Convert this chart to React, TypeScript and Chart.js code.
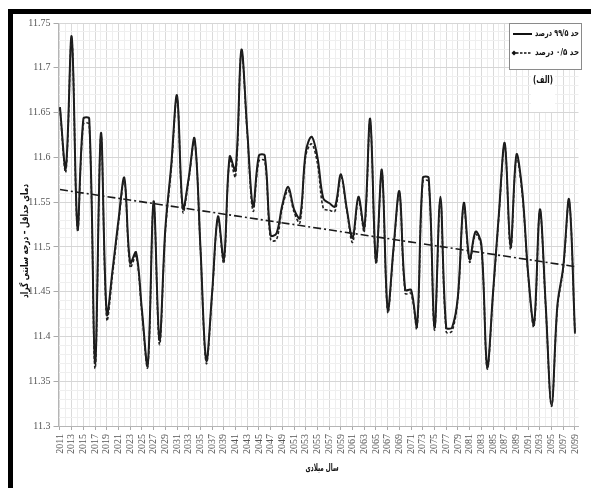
import React, { useEffect, useRef } from 'react';
import { Chart, registerables } from 'chart.js';

Chart.register(...registerables);

const years = [
  2011, 2012, 2013, 2014, 2015, 2016, 2017, 2018, 2019, 2020,
  2021, 2022, 2023, 2024, 2025, 2026, 2027, 2028, 2029, 2030,
  2031, 2032, 2033, 2034, 2035, 2036, 2037, 2038, 2039, 2040,
  2041, 2042, 2043, 2044, 2045, 2046, 2047, 2048, 2049, 2050,
  2051, 2052, 2053, 2054, 2055, 2056, 2057, 2058, 2059, 2060,
  2061, 2062, 2063, 2064, 2065, 2066, 2067, 2068, 2069, 2070,
  2071, 2072, 2073, 2074, 2075, 2076, 2077, 2078, 2079, 2080,
  2081, 2082, 2083, 2084, 2085, 2086, 2087, 2088, 2089, 2090,
  2091, 2092, 2093, 2094, 2095, 2096, 2097, 2098, 2099,
];

// حد ۹۹/۵ درصد (solid)
const upper995 = [
  11.656, 11.588, 11.735, 11.521, 11.643, 11.643, 11.370, 11.627, 11.425, 11.475,
  11.530, 11.577, 11.482, 11.494, 11.430, 11.368, 11.551, 11.396, 11.520, 11.590,
  11.669, 11.543, 11.577, 11.621, 11.500, 11.373, 11.449, 11.534, 11.486, 11.601,
  11.585, 11.720, 11.630, 11.545, 11.602, 11.602, 11.513, 11.515, 11.547, 11.567,
  11.542, 11.532, 11.606, 11.623, 11.600, 11.554, 11.549, 11.545, 11.581, 11.543,
  11.510, 11.556, 11.521, 11.643, 11.484, 11.586, 11.430, 11.499, 11.562, 11.452,
  11.452, 11.412, 11.577, 11.577, 11.410, 11.556, 11.410, 11.410, 11.445, 11.549,
  11.486, 11.517, 11.503, 11.366, 11.449, 11.537, 11.616, 11.501, 11.603, 11.562,
  11.470, 11.414, 11.542, 11.435, 11.323, 11.435, 11.478, 11.553, 11.404,
];

// حد ۰/۵ درصد (dashed)
const lower05 = [
  11.655, 11.584, 11.733, 11.518, 11.637, 11.637, 11.364, 11.625, 11.419, 11.470,
  11.526, 11.574, 11.477, 11.490, 11.426, 11.366, 11.549, 11.391, 11.516, 11.586,
  11.667, 11.539, 11.575, 11.619, 11.498, 11.370, 11.447, 11.532, 11.482, 11.598,
  11.578, 11.718, 11.627, 11.540, 11.596, 11.596, 11.508, 11.508, 11.544, 11.563,
  11.539, 11.527, 11.602, 11.615, 11.593, 11.543, 11.541, 11.540, 11.578, 11.541,
  11.505, 11.553, 11.517, 11.640, 11.481, 11.584, 11.427, 11.497, 11.560, 11.448,
  11.448, 11.409, 11.573, 11.573, 11.407, 11.553, 11.405, 11.406, 11.443, 11.546,
  11.483, 11.514, 11.500, 11.364, 11.447, 11.535, 11.614, 11.497, 11.600, 11.558,
  11.468, 11.411, 11.540, 11.433, 11.322, 11.432, 11.476, 11.551, 11.403,
];

const trendYears = [2011, 2099];
const trendValues = [11.564, 11.478];

const yMin = 11.3;
const yMax = 11.75;

const legendLabels = ['حد ۹۹/۵ درصد', 'حد ۰/۵ درصد'];
const panelLabel = '(الف)';
const yTitle = 'دمای حداقل – درجه سانتی گراد';
const xTitle = 'سال میلادی';

const W = 578;
const H = 469;

const textPlugin = {
  id: 'boxLegendAndTitles',
  afterDraw(chart: any) {
    const ctx = chart.ctx as CanvasRenderingContext2D;
    ctx.save();
    // white patch behind panel label
    ctx.fillStyle = '#ffffff';
    ctx.fillRect(518, 56, 24, 42);
    // legend box
    ctx.fillRect(496, 9, 72, 46);
    ctx.strokeStyle = '#8a8a8a';
    ctx.lineWidth = 1;
    ctx.strokeRect(496.5, 9.5, 72, 46);

    // solid sample
    ctx.strokeStyle = '#111';
    ctx.lineWidth = 2;
    ctx.setLineDash([]);
    ctx.beginPath();
    ctx.moveTo(500, 20);
    ctx.lineTo(519, 20);
    ctx.stroke();

    // dashed sample with diamond
    ctx.lineWidth = 1.5;
    ctx.setLineDash([2.5, 1.5]);
    ctx.beginPath();
    ctx.moveTo(503, 39);
    ctx.lineTo(519, 39);
    ctx.stroke();
    ctx.setLineDash([]);
    ctx.fillStyle = '#111';
    ctx.beginPath();
    ctx.moveTo(501, 36.5);
    ctx.lineTo(503.5, 39);
    ctx.lineTo(501, 41.5);
    ctx.lineTo(498.5, 39);
    ctx.closePath();
    ctx.fill();

    ctx.fillStyle = '#111';
    ctx.direction = 'rtl';
    ctx.textAlign = 'right';
    ctx.textBaseline = 'middle';
    ctx.font = 'bold 9px "DejaVu Sans"';
    ctx.fillText(legendLabels[0], 566, 20, 44);
    ctx.fillText(legendLabels[1], 566, 39, 44);

    ctx.textAlign = 'center';
    ctx.font = 'bold 10px "DejaVu Sans"';
    ctx.fillText(panelLabel, 530, 66, 20);

    // axis titles
    ctx.font = 'bold 10px "DejaVu Sans"';
    ctx.fillText(xTitle, 309, 454, 33);
    ctx.translate(12, 227);
    ctx.rotate(-Math.PI / 2);
    ctx.fillText(yTitle, 0, 0, 114);
    ctx.restore();
  },
};

export default function App() {
  const canvasRef = useRef<HTMLCanvasElement | null>(null);

  useEffect(() => {
    const canvas = canvasRef.current;
    if (!canvas) return;

    const upperData = years.map((x, i) => ({ x, y: upper995[i] }));
    const lowerData = years.map((x, i) => ({ x, y: lower05[i] }));
    const trendData = trendYears.map((x, i) => ({ x, y: trendValues[i] }));

    const yTicks: { value: number }[] = [];
    for (let i = 0; i <= 45; i++) yTicks.push({ value: Math.round((yMin + i * 0.01) * 100) / 100 });
    const isMajorY = (v: number) => Math.round(v * 100) % 5 === 0;
    const isLabeledX = (v: number) => (v - 2011) % 2 === 0;

    const chart = new Chart(canvas, {
      type: 'line',
      data: {
        datasets: [
          {
            label: legendLabels[1],
            data: lowerData,
            borderColor: '#222',
            borderWidth: 1.6,
            borderDash: [3, 2],
            pointRadius: 0,
            tension: 0.35,
            fill: false,
          },
          {
            label: legendLabels[0],
            data: upperData,
            borderColor: '#1a1a1a',
            borderWidth: 2,
            pointRadius: 0,
            tension: 0.35,
            fill: false,
          },
          {
            label: 'trend',
            data: trendData,
            borderColor: '#1a1a1a',
            borderWidth: 1.6,
            borderDash: [8, 3, 2, 3],
            pointRadius: 0,
            tension: 0,
            fill: false,
          },
        ],
      },
      options: {
        responsive: false,
        animation: false,
        devicePixelRatio: 1,
        layout: { padding: { left: 0, right: 4, top: 7, bottom: 0 } },
        plugins: {
          legend: { display: false },
          tooltip: { enabled: false },
        },
        scales: {
          x: {
            type: 'linear',
            min: 2010.75,
            max: 2099.6,
            afterBuildTicks: (scale: any) => {
              scale.ticks = years.map((v) => ({ value: v }));
            },
            afterFit: (scale: any) => {
              scale.height = 57;
            },
            ticks: {
              autoSkip: false,
              minRotation: 90,
              maxRotation: 90,
              padding: 4,
              color: '#555',
              font: { family: '"Liberation Serif"', size: 10 },
              callback: (v: any) => (isLabeledX(Number(v)) ? String(v) : ''),
            },
            grid: {
              color: (c: any) => (c.tick && isLabeledX(c.tick.value) ? '#dadada' : '#eeeeee'),
              tickColor: (c: any) => (c.tick && isLabeledX(c.tick.value) ? '#aaaaaa' : 'rgba(0,0,0,0)'),
              tickLength: 4,
              lineWidth: 1,
            },
            border: { color: '#b5b5b5' },
            title: { display: false },
          },
          y: {
            type: 'linear',
            min: yMin,
            max: yMax,
            afterBuildTicks: (scale: any) => {
              scale.ticks = yTicks.map((t) => ({ value: t.value }));
            },
            afterFit: (scale: any) => {
              scale.width = 45.5;
            },
            ticks: {
              autoSkip: false,
              padding: 3,
              color: '#555',
              font: { family: '"Liberation Serif"', size: 10 },
              callback: (v: any) => {
                const n = Number(v);
                return isMajorY(n) ? String(Number(n.toFixed(2))) : '';
              },
            },
            grid: {
              color: (c: any) => (c.tick && isMajorY(c.tick.value) ? '#d6d6d6' : '#efefef'),
              tickColor: (c: any) => (c.tick && isMajorY(c.tick.value) ? '#aaaaaa' : 'rgba(0,0,0,0)'),
              tickLength: 5,
              lineWidth: 1,
            },
            border: { color: '#b5b5b5' },
            title: { display: false },
          },
        },
      },
      plugins: [textPlugin],
    } as any);

    return () => {
      chart.destroy();
    };
  }, []);

  return (
    <div
      style={{
        position: 'fixed',
        left: 8,
        top: 9,
        width: 600,
        height: 500,
        border: '5px solid #000',
        background: '#fff',
        boxSizing: 'content-box',
      }}
    >
      <canvas ref={canvasRef} width={W} height={H} style={{ display: 'block', width: W, height: H }} />
    </div>
  );
}
